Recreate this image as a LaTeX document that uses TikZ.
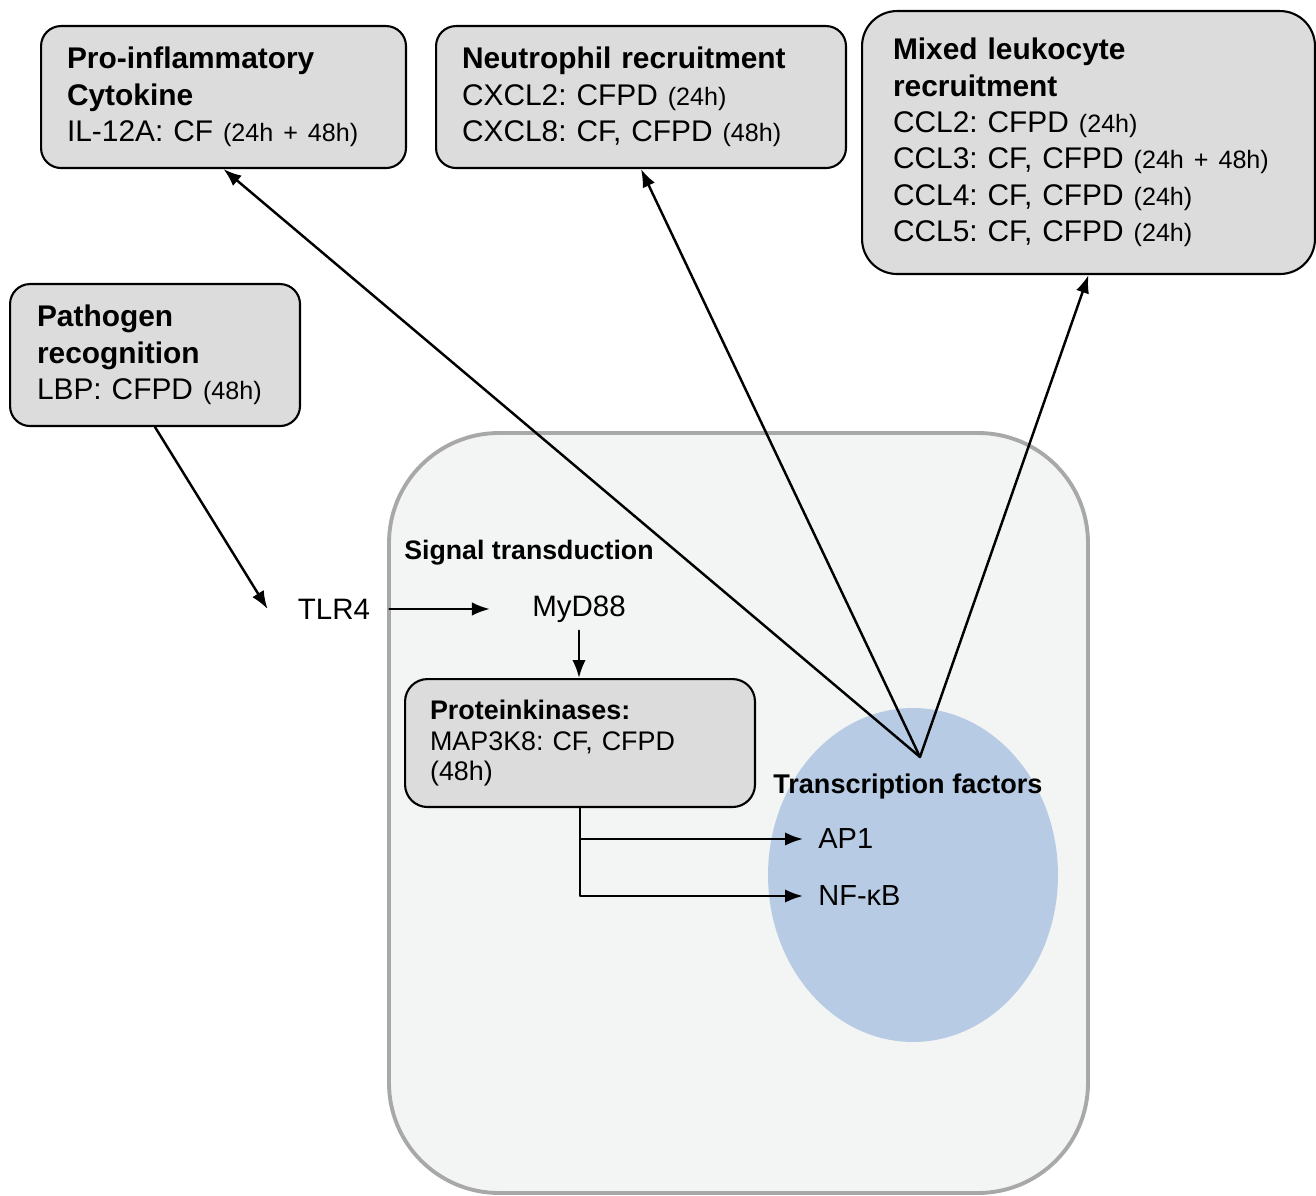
\documentclass[tikz,border=0pt]{standalone}
\usepackage{fontspec}
\setmainfont{Liberation Sans}
\usetikzlibrary{positioning,arrows.meta}
\frenchspacing

\definecolor{boxgray}{RGB}{220,220,220}
\definecolor{cellgray}{RGB}{243,244,244}
\definecolor{cellline}{RGB}{168,168,168}
\definecolor{tfblue}{RGB}{183,204,228}

\newcommand{\timept}[1]{{\fontsize{14.3}{20.7}\selectfont #1}}

\tikzset{
  panel/.style={draw=black,line width=1.2pt,fill=boxgray,rounded corners=0.4cm,
    align=left,anchor=north west,inner xsep=0.52cm,inner ysep=0pt,
    font=\fontsize{17}{20.7}\selectfont},
  plain/.style={inner sep=0pt,font=\fontsize{16.8}{20}\selectfont},
  arr/.style={-{Latex[length=0.36cm,width=0.27cm]},line width=1.4pt,color=black}
}

\begin{document}
\begin{tikzpicture}
      [line cap=round,line join=round,x=0.02cm,y=-0.02cm]
\useasboundingbox (0,0) rectangle (1316,1196);

%cell layer
  \draw[cellline,fill=cellgray,line width=2.2pt,rounded corners=2.2cm] (389,433) rectangle (1088,1193);
  \fill[tfblue] (913,875) ellipse [x radius=2.9cm, y radius=3.34cm];

%boxes outside the cell
  \node[panel,text width=6.26cm,minimum height=2.84cm] (cyto) at (40,25)
    {\textbf{Pro-inflammatory}\\\textbf{Cytokine}\\IL-12A: CF \timept{(24h + 48h)}};
  \node[panel,text width=7.16cm,minimum height=2.84cm] (neut) at (435,25)
    {\textbf{Neutrophil recruitment}\\CXCL2: CFPD \timept{(24h)}\\CXCL8: CF, CFPD \timept{(48h)}};
  \node[panel,text width=7.82cm,minimum height=5.26cm,inner xsep=0.62cm,rounded corners=0.7cm] (mixed) at (861,10)
    {\textbf{Mixed leukocyte}\\\textbf{recruitment}\\CCL2: CFPD \timept{(24h)}\\CCL3: CF, CFPD \timept{(24h + 48h)}\\CCL4: CF, CFPD \timept{(24h)}\\CCL5: CF, CFPD \timept{(24h)}};
  \node[panel,text width=4.72cm,minimum height=2.84cm,inner xsep=0.54cm] (path) at (9,283)
    {\textbf{Pathogen}\\\textbf{recognition}\\LBP: CFPD \timept{(48h)}};

%inside the cell
  \node[plain,anchor=west,font=\fontsize{15.2}{18}\selectfont\bfseries] (sig) at (404,553) {Signal transduction};
  \node[plain] (tlr) at (334,609) {TLR4};
  \node[plain] (myd) at (579,609) {MyD88};
  \node[panel,text width=6.0cm,minimum height=2.56cm,inner xsep=0.5cm,rounded corners=0.45cm,
    font=\fontsize{15.3}{17.5}\selectfont] (pk) at (404,678)
    {\textbf{Proteinkinases:}\\MAP3K8: CF, CFPD\\(48h)};
  \node[plain,anchor=west,font=\fontsize{15.4}{18}\selectfont\bfseries] (tfac) at (773,787) {Transcription factors};
  \node[plain,anchor=west,font=\fontsize{16.5}{18}\selectfont] (ap) at (818,839) {AP1};
  \node[plain,anchor=west,font=\fontsize{16.5}{18}\selectfont] (nfkb) at (818,896) {NF-κB};
  \coordinate (tf) at (920,757);

%arrows
  \draw[arr] (path.south) -- ([xshift=-0.6cm]tlr.west);
  \draw[arr] ([xshift=0.38cm]tlr.east) -- ([xshift=-0.84cm]myd.west);
  \draw[arr] ([yshift=-0.16cm]myd.south) -- (myd.south |- pk.north);
  \draw[arr] (pk.south) |- ([xshift=-0.3cm]ap.west);
  \draw[arr] (pk.south) |- ([xshift=-0.3cm]nfkb.west);
  \draw[arr] (tf) -- (cyto.south);
  \draw[arr] (tf) -- (neut.south);
  \draw[arr] (tf) -- (mixed.south);

\end{tikzpicture}
\end{document}
